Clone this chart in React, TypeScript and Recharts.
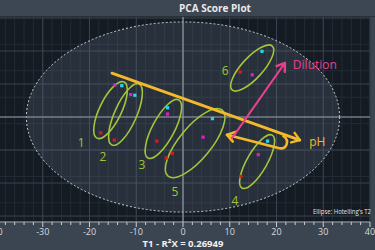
import React from 'react';
import { ScatterChart, Scatter, XAxis, YAxis, CartesianGrid, ReferenceLine, ReferenceArea, ReferenceDot } from 'recharts';

// scores per replicate colour (T1, T2)
const redScores = [
  { x: -17.6, y: -4.8 },
  { x: -14.7, y: -7.0 },
  { x: -5.6, y: -7.3 },
  { x: -2.3, y: -11.0 },
  { x: -3.6, y: -12.4 },
  { x: 12.4, y: -18.0 },
  { x: 12.2, y: 13.6 },
];
const magentaScores = [
  { x: -14.6, y: 9.7 },
  { x: -11.2, y: 6.8 },
  { x: -3.3, y: 0.9 },
  { x: 4.3, y: -6.1 },
  { x: 16.1, y: -11.4 },
  { x: 14.8, y: 12.8 },
];
const cyanScores = [
  { x: -13.1, y: 9.5 },
  { x: -10.3, y: 6.6 },
  { x: -3.3, y: 2.8 },
  { x: 6.3, y: -0.5 },
  { x: 18.1, y: -7.3 },
  { x: 16.9, y: 19.9 },
];

const majorXTicks = [-40, -30, -20, -10, 0, 10, 20, 30, 40];
const majorYTicks = [-30, -20, -10, 0, 10, 20, 30];
const minorXTicks = Array.from({ length: 41 }, (_, i) => -40 + i * 2);
const minorYTicks = Array.from({ length: 31 }, (_, i) => -30 + i * 2);

// group ellipses: major axis ends (data units) + minor radius
const groupEllipses = [
  { x1: -18.4, y1: -6.4, x2: -12.6, y2: 10.6, r: 11 },
  { x1: -15.2, y1: -8.5, x2: -9.4, y2: 10.0, r: 11 },
  { x1: -7.5, y1: -12.4, x2: -0.9, y2: 5.2, r: 11 },
  { x1: -3.2, y1: -17.9, x2: 8.4, y2: 2.1, r: 16 },
  { x1: 12.6, y1: -21.5, x2: 19.1, y2: -5.5, r: 10 },
  { x1: 10.5, y1: 8.2, x2: 19.1, y2: 21.5, r: 10.5 },
];
const groupLabels = [
  { x: -21.8, y: -7.6, text: '1' },
  { x: -17.1, y: -12.1, text: '2' },
  { x: -8.8, y: -14.5, text: '3' },
  { x: 11.1, y: -25.2, text: '4' },
  { x: -1.7, y: -22.7, text: '5' },
  { x: 9.0, y: 14.2, text: '6' },
];

const GREEN = '#a2c43a';
const YELLOW = '#f4b92b';
const PINK = '#e8408e';

const arrowHead = (x1: number, y1: number, x2: number, y2: number, color: string) => {
  const a = Math.atan2(y2 - y1, x2 - x1);
  const len = 9;
  const p1 = [x2 - len * Math.cos(a - 0.6), y2 - len * Math.sin(a - 0.6)];
  const p2 = [x2 - len * Math.cos(a + 0.6), y2 - len * Math.sin(a + 0.6)];
  return (
    <polyline
      points={`${p1[0]},${p1[1]} ${x2},${y2} ${p2[0]},${p2[1]}`}
      fill="none"
      stroke={color}
      strokeWidth={2.4}
      strokeLinecap="round"
      strokeLinejoin="round"
    />
  );
};

const TiltedEllipse = (props: any) => {
  const { x1, y1, x2, y2, r } = props;
  const cx = (x1 + x2) / 2;
  const cy = (y1 + y2) / 2;
  const rx = Math.hypot(x2 - x1, y2 - y1) / 2;
  const ang = (Math.atan2(y2 - y1, x2 - x1) * 180) / Math.PI;
  return (
    <ellipse cx={cx} cy={cy} rx={rx} ry={r} transform={`rotate(${ang} ${cx} ${cy})`} fill="none" stroke={GREEN} strokeWidth={1.6} />
  );
};

const Arrow = (props: any) => {
  const { x1, y1, x2, y2, color, width } = props;
  return (
    <g>
      <line x1={x1} y1={y1} x2={x2} y2={y2} stroke={color} strokeWidth={width} strokeLinecap="round" />
      {arrowHead(x1, y1, x2, y2, color)}
    </g>
  );
};

// lower return arrow of the pH hairpin: head at start, hook at end
const HookArrow = (props: any) => {
  const { x1, y1, x2, y2 } = props;
  return (
    <g>
      <path
        d={`M${x1},${y1} L${x2},${y2} C${x2 + 8},${y2 + 2} ${x2 + 12},${y2 - 7} ${x2 + 5},${y2 - 12}`}
        fill="none"
        stroke={YELLOW}
        strokeWidth={2.6}
        strokeLinecap="round"
      />
      {arrowHead(x2, y2, x1, y1, YELLOW)}
    </g>
  );
};

const Hotelling = (props: any) => {
  const { x, y, width, height } = props;
  return (
    <ellipse
      cx={x + width / 2}
      cy={y + height / 2}
      rx={width / 2}
      ry={height / 2}
      fill="rgba(110,125,145,0.22)"
      stroke="#cfd3d8"
      strokeWidth={1}
      strokeDasharray="2 2"
    />
  );
};

const XTick = (props: any) => {
  const { x, y, payload } = props;
  const v = payload.value;
  const major = v % 10 === 0;
  return (
    <g>
      <line x1={x} y1={y} x2={x} y2={y + (major ? 5 : 3)} stroke="#c9ced3" strokeWidth={1} />
      {major && (
        <text x={x} y={y + 13} textAnchor="middle" fill="#d6dadf" fontSize={9} fontFamily="Open Sans">
          {v}
        </text>
      )}
    </g>
  );
};

const square = (color: string) => (p: any) => (
  <rect x={p.cx - 1.6} y={p.cy - 1.6} width={3.2} height={3.2} fill={color} />
);

export default function App() {
  return (
    <div style={{ position: 'absolute', left: 0, top: 0, width: 375, height: 250, overflow: 'hidden', background: '#3b4451', fontFamily: 'Open Sans' }}>
      <div style={{ position: 'absolute', left: -14, top: 0 }}>
        <ScatterChart width={400} height={250} margin={{ top: 16, right: 16, bottom: 0, left: 10 }}>
          <CartesianGrid fill="#151b23" stroke="#232b35" strokeWidth={1} />
          <CartesianGrid fill="none" stroke="#3a434f" strokeWidth={1} verticalValues={majorXTicks} horizontalValues={majorYTicks} />
          <XAxis
            type="number"
            dataKey="x"
            domain={[-40, 40]}
            ticks={minorXTicks}
            interval={0}
            tickSize={0}
            tickMargin={0}
            tickLine={false}
            tick={<XTick />}
            axisLine={{ stroke: '#aab1b8' }}
            height={28}
            label={{ value: 'T1 - R²X = 0.26949', position: 'insideBottom', offset: 3, fill: '#f2f2f2', fontSize: 9.5, fontWeight: 'bold' }}
          />
          <YAxis type="number" dataKey="y" domain={[-31.8, 30.6]} ticks={minorYTicks} hide allowDataOverflow />
          <ReferenceArea x1={-33.5} x2={33.5} y1={-28.8} y2={28.8} shape={<Hotelling />} ifOverflow="visible" />
          <ReferenceLine x={0} stroke="#8f969e" strokeWidth={1.2} />
          <ReferenceLine y={0} stroke="#8f969e" strokeWidth={1.2} />
          {groupEllipses.map((e, i) => (
            <ReferenceLine
              key={`e${i}`}
              segment={[{ x: e.x1, y: e.y1 }, { x: e.x2, y: e.y2 }]}
              ifOverflow="visible"
              shape={(p: any) => <TiltedEllipse {...p} r={e.r} />}
            />
          ))}
          <ReferenceLine
            segment={[{ x: -15.2, y: 13.3 }, { x: 25.0, y: -7.0 }]}
            ifOverflow="visible"
            shape={(p: any) => <Arrow {...p} color={YELLOW} width={2.8} />}
          />
          <ReferenceLine
            segment={[{ x: 9.4, y: -5.4 }, { x: 20.4, y: -9.4 }]}
            ifOverflow="visible"
            shape={(p: any) => <HookArrow {...p} />}
          />
          <ReferenceLine
            segment={[{ x: 10.5, y: -6.4 }, { x: 21.8, y: 16.4 }]}
            ifOverflow="visible"
            shape={(p: any) => <Arrow {...p} color={PINK} width={2} />}
          />
          {groupLabels.map((l, i) => (
            <ReferenceDot
              key={`l${i}`}
              x={l.x}
              y={l.y}
              r={0}
              ifOverflow="visible"
              shape={(p: any) => (
                <text x={p.cx} y={p.cy} textAnchor="middle" dominantBaseline="central" fill={GREEN} fontSize={12} fontFamily="Open Sans">
                  {l.text}
                </text>
              )}
            />
          ))}
          <ReferenceDot
            x={23.5}
            y={15.8}
            r={0}
            ifOverflow="visible"
            shape={(p: any) => (
              <text x={p.cx} y={p.cy} dominantBaseline="central" fill={PINK} fontSize={12} fontFamily="Open Sans">
                Dilution
              </text>
            )}
          />
          <ReferenceDot
            x={27.0}
            y={-7.3}
            r={0}
            ifOverflow="visible"
            shape={(p: any) => (
              <text x={p.cx} y={p.cy} dominantBaseline="central" fill={YELLOW} fontSize={12} fontFamily="Open Sans">
                pH
              </text>
            )}
          />
          <Scatter data={redScores} fill="#e8141c" shape={square('#e8141c')} isAnimationActive={false} />
          <Scatter data={magentaScores} fill="#dc1fc8" shape={square('#dc1fc8')} isAnimationActive={false} />
          <Scatter data={cyanScores} fill="#2cd3ee" shape={square('#2cd3ee')} isAnimationActive={false} />
        </ScatterChart>
      </div>
      <div
        style={{
          position: 'absolute',
          left: 0,
          top: 0,
          width: 430,
          height: 16,
          background: '#3d4653',
          color: '#e9e9e9',
          fontSize: 10,
          fontWeight: 'bold',
          textAlign: 'center',
          lineHeight: '16px',
          borderBottom: '1px solid #2a313b',
        }}
      >
        PCA Score Plot
      </div>
      <svg style={{ position: 'absolute', left: 0, top: 0 }} width={375} height={250}>
        <text x={371} y={214} textAnchor="end" fill="#e2e2e2" fontSize={7} fontFamily="Open Sans" textLength={58} lengthAdjust="spacingAndGlyphs">
          Ellipse: Hotelling's T2
        </text>
      </svg>
    </div>
  );
}
